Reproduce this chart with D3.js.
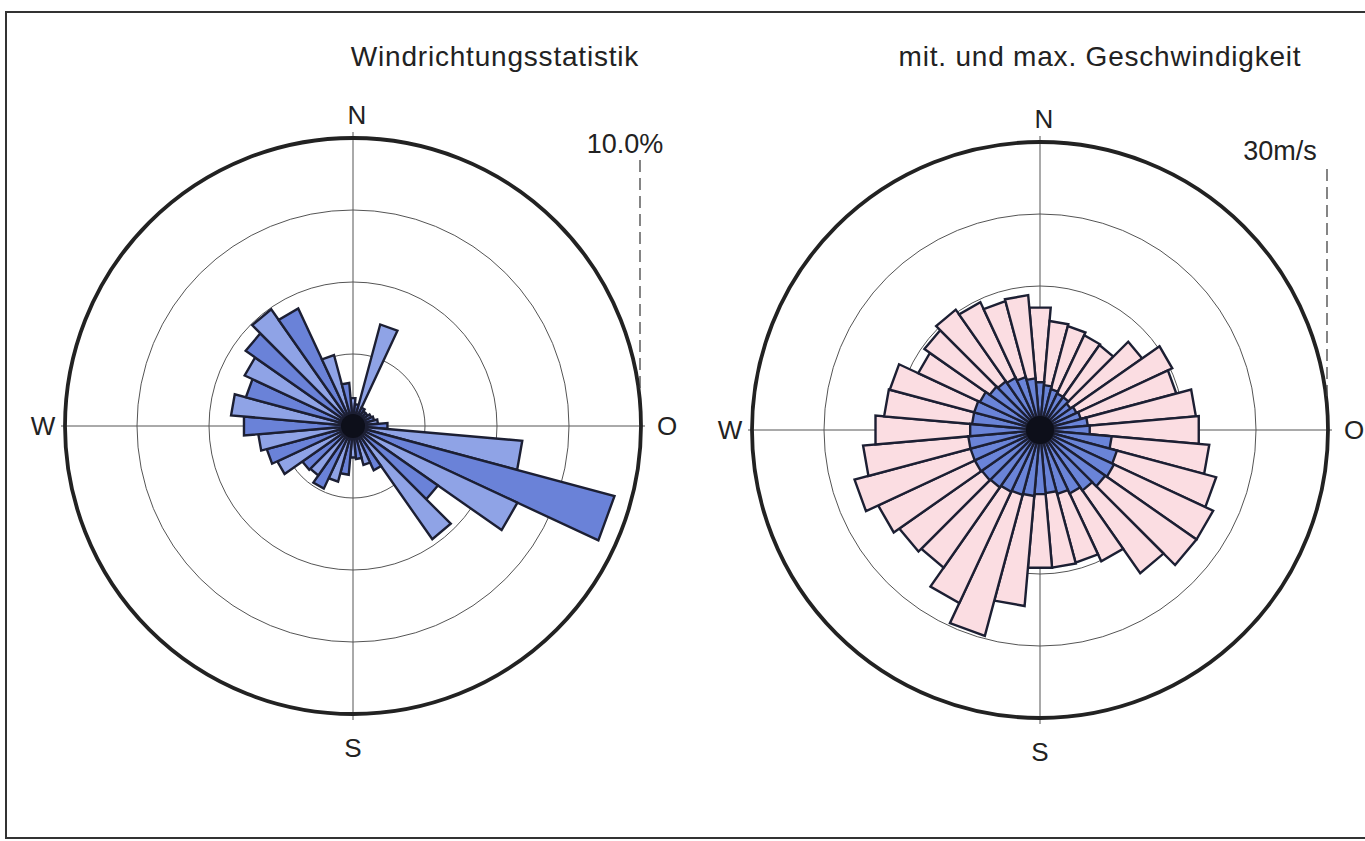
<!DOCTYPE html>
<meta charset="utf-8">
<style>
body{ margin:0; background:#fff; }
text{ font-family:"Liberation Sans", Arial, sans-serif; fill:#222; }
.title{ font-size:28px; text-anchor:middle; letter-spacing:0.8px; }
.dir{ font-size:26px; text-anchor:middle; }
.scale{ font-size:27px; text-anchor:middle; }
.ring{ fill:none; stroke:#555; stroke-width:1; }
.outer{ fill:none; stroke:#222; stroke-width:3.8; }
.axis{ stroke:#555; stroke-width:1; }
.dash{ stroke:#444; stroke-width:1.3; stroke-dasharray:12,6; }
.bar{ stroke:#1c1f33; stroke-width:2.4; stroke-linejoin:miter; }
</style>
<body>
<script src="https://d3js.org/d3.v7.min.js"></script>
<script>
// Richtungen (Grad, im Uhrzeigersinn ab Nord)
var dirs = [0,10,20,30,40,50,60,70,80,90,100,110,120,130,140,150,160,170,
            180,190,200,210,220,230,240,250,260,270,280,290,300,310,320,330,340,350];

// Haeufigkeit in %
var freq = [0.97,0.76,3.65,0.7,0.62,0.62,0.7,0.76,0.87,1.2,5.9,9.4,6.3,3.6,4.8,1.7,1.4,1.15,
            1.1,1.7,2.0,2.4,2.1,2.15,2.9,3.1,3.3,3.8,4.25,3.85,4.15,4.55,4.95,4.5,2.55,1.5];

// maximale Geschwindigkeit m/s
var vmax = [12.8,11.4,11.2,10.9,10.8,13.0,15.2,14.7,16.3,16.6,17.7,19.0,19.9,19.9,18.2,15.1,14.3,14.4,
            14.4,18.4,22.2,19.9,17.5,17.9,18.6,20.0,18.5,17.2,16.3,16.2,14.0,14.7,15.3,14.7,13.9,14.1];

// mittlere Geschwindigkeit m/s
var vmean = [5.0,4.7,4.4,4.2,4.2,3.9,4.2,4.4,5.0,5.2,7.5,8.3,8.5,8.3,7.7,7.3,6.9,6.6,
             6.7,6.9,7.0,7.1,7.3,7.4,7.5,7.5,7.5,7.3,7.1,7.1,6.9,6.4,6.2,6.0,5.7,5.4];

var titles = ["Windrichtungsstatistik", "mit. und max. Geschwindigkeit"];
var scaleLabels = ["10.0%", "30m/s"];
var maxVals = [10, 30];
var compass = ["N","O","S","W"];

var W = 1365, H = 841, R = 288;

var svg = d3.select("body").append("svg").attr("width", W).attr("height", H);

// Rahmen
svg.append("rect").attr("x",6).attr("y",12).attr("width",1375).attr("height",826)
   .attr("fill","none").attr("stroke","#333").attr("stroke-width",2);

var centers = [[353,426],[1040,430]];
var titleX = [495, 1100];

var ang = d3.scaleLinear().domain([0,360]).range([0, 2*Math.PI]);
var half = 5;

var wedge = d3.lineRadial()
   .angle(d=>d[0]).radius(d=>d[1])
   .curve(d3.curveLinearClosed);

function wedgePts(a, r){
   return [[0,0],[ang(a-half), r],[ang(a+half), r]];
}

var g = centers.map(c=>svg.append("g").attr("transform","translate("+c[0]+","+c[1]+")"));

[0,1].forEach(function(i){
   var rs = d3.scaleLinear().domain([0, maxVals[i]]).range([0, R]);
   var gi = g[i];

   svg.append("text").attr("class","title").attr("x",titleX[i]).attr("y",66).text(titles[i]);

   // Ringe
   gi.selectAll(".ring").data([0.25,0.5,0.75]).enter().append("circle")
     .attr("class","ring").attr("r", d=>rs(d*maxVals[i]));

   // Achsen
   gi.append("line").attr("class","axis").attr("x1",-R-4).attr("x2",R+4);
   gi.append("line").attr("class","axis").attr("y1",-R-6).attr("y2",R+6);

   gi.append("circle").attr("class","outer").attr("r", rs(maxVals[i]));

   // Massstab
   gi.append("line").attr("class","dash")
     .attr("x1",R-1).attr("x2",R-1).attr("y1",-R+(i==0?22:27)).attr("y2",-34);
   gi.append("text").attr("class","scale")
     .attr("x",i==0 ? R-16 : R-48).attr("y",i==0 ? -273 : -270).text(scaleLabels[i]);

   // Himmelsrichtungen
   var pos = [[4,-302],[R+26,9],[0,331],[-R-22,9]];
   compass.forEach(function(t,k){
      gi.append("text").attr("class","dir").attr("x",pos[k][0]).attr("y",pos[k][1]).text(t);
   });
});

// linke Rose: Haeufigkeit
var rs0 = d3.scaleLinear().domain([0,10]).range([0,R]);
g[0].selectAll(".freq").data(dirs).enter().append("path")
   .attr("class","bar")
   .attr("d",(d,k)=>wedge(wedgePts(d, rs0(freq[k]))))
   .attr("fill",(d,k)=>(k%2==1 ? "#6a82d8" : "#8fa3e6"));
g[0].append("circle").attr("r",12).attr("fill","#0d0f1a");

// rechte Rose: max und mittel
var rs1 = d3.scaleLinear().domain([0,30]).range([0,R]);
g[1].selectAll(".vmax").data(dirs).enter().append("path")
   .attr("class","bar")
   .attr("d",(d,k)=>wedge(wedgePts(d, rs1(vmax[k]))))
   .attr("fill","#fbdde2");
g[1].selectAll(".vmean").data(dirs).enter().append("path")
   .attr("class","bar")
   .attr("d",(d,k)=>wedge(wedgePts(d, rs1(vmean[k]))))
   .attr("fill","#6a84d8");
g[1].append("circle").attr("r",14).attr("fill","#0d0f1a");
</script>
</body>
